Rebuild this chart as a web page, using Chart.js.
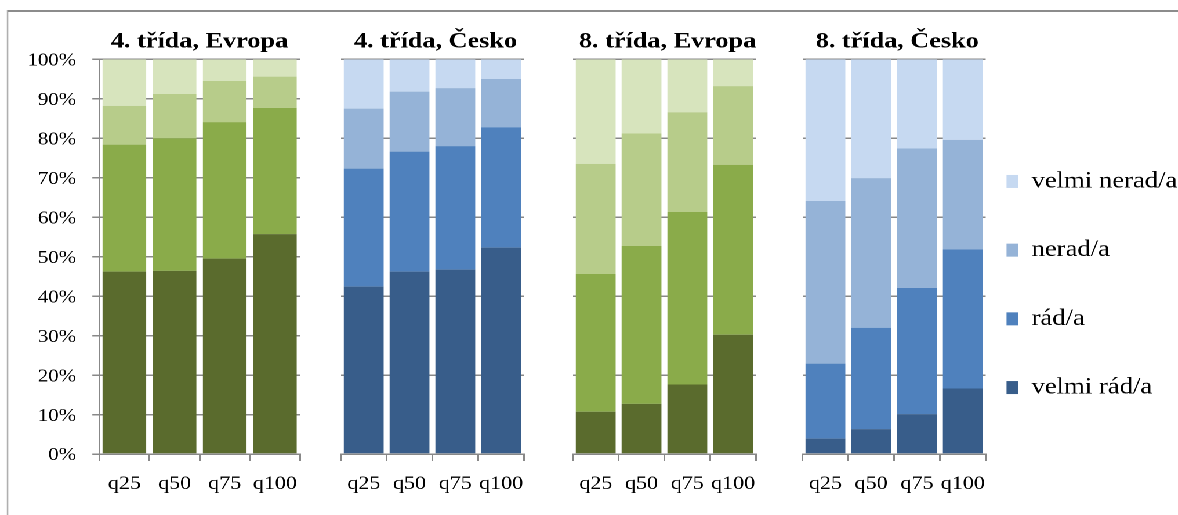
<!DOCTYPE html>
<html lang="cs">
<head>
<meta charset="utf-8">
<title>Oblíbenost předmětu podle kvartilů</title>
<script src="https://cdn.jsdelivr.net/npm/chart.js@4.4.1/dist/chart.umd.min.js"></script>
<style>
  html, body { margin: 0; padding: 0; background: #fff; width: 1178px; height: 515px; overflow: hidden; }
  /* the whole figure is laid out on a narrower stage and widened horizontally */
  #stage { position: absolute; left: 0; top: 0; width: 1015.5px; height: 515px; transform: scaleX(1.16); transform-origin: 0 0; }
  #frame { position: absolute; left: 6px; top: 9.7px; width: 1200px; height: 700px; border-top: 2px solid #8c8c8c; border-left: 1.7px solid #8c8c8c; }
  canvas { position: absolute; top: 0; }
</style>
</head>
<body>
<div id="stage">
  <div id="frame"></div>
  <canvas id="p1" width="344" height="515" style="left:0px"></canvas>
  <canvas id="p2" width="173" height="515" style="left:288.8px"></canvas>
  <canvas id="p3" width="173" height="515" style="left:489.1px"></canvas>
  <canvas id="p4" width="173" height="515" style="left:686.5px"></canvas>
  <canvas id="lg" width="240" height="461" style="left:821.8px; top:54px"></canvas>
</div>
<script>
// categories and series
const categories = ['q25', 'q50', 'q75', 'q100'];
const seriesLabels = ['velmi rád/a', 'rád/a', 'nerad/a', 'velmi nerad/a'];
const panelTitles = ['4. třída, Evropa', '4. třída, Česko', '8. třída, Evropa', '8. třída, Česko'];

// shares in % per group, from the bottom segment up
const evropa4VelmiRad   = [46.2, 46.4, 49.5, 55.7];
const evropa4Rad        = [32.2, 33.6, 34.6, 32.0];
const evropa4Nerad      = [9.8, 11.2, 10.4, 7.9];
const evropa4VelmiNerad = [11.8, 8.8, 5.5, 4.4];

const cesko4VelmiRad    = [42.4, 46.2, 46.7, 52.3];
const cesko4Rad         = [29.9, 30.4, 31.3, 30.5];
const cesko4Nerad       = [15.2, 15.2, 14.7, 12.2];
const cesko4VelmiNerad  = [12.5, 8.2, 7.3, 5.0];

const evropa8VelmiRad   = [10.7, 12.7, 17.6, 30.2];
const evropa8Rad        = [34.9, 40.0, 43.7, 43.1];
const evropa8Nerad      = [27.9, 28.5, 25.3, 19.9];
const evropa8VelmiNerad = [26.5, 18.8, 13.4, 6.8];

const cesko8VelmiRad    = [3.9, 6.3, 10.1, 16.6];
const cesko8Rad         = [19.0, 25.7, 32.0, 35.2];
const cesko8Nerad       = [41.2, 37.9, 35.3, 27.8];
const cesko8VelmiNerad  = [35.9, 30.1, 22.6, 20.4];

const greenShades = ['#5a6b2d', '#8aab4a', '#b7cc8a', '#d7e4bd'];
const blueShades  = ['#385d8a', '#4f81bd', '#95b3d7', '#c6d9f1'];

const FONT = "'Liberation Serif', 'Times New Roman', serif";
const GRID = '#888888';

Chart.defaults.font.family = FONT;
Chart.defaults.color = '#000';

function makeDatasets(series, colors) {
  return series.map((values, i) => ({
    label: seriesLabels[i],
    data: values,
    backgroundColor: colors[i],
    borderWidth: 0,
    categoryPercentage: 1,
    barPercentage: 0.87
  }));
}

function panel(canvasId, title, series, colors, withAxisLabels) {
  const yScale = {
    stacked: true,
    min: 0,
    max: 100,
    ticks: {
      display: withAxisLabels,
      stepSize: withAxisLabels ? 10 : 20,
      callback: v => v + '%',
      font: { family: FONT, size: 18 },
      color: '#000',
      padding: 14,
      labelOffset: 1.5
    },
    grid: { color: GRID, lineWidth: 1.5, drawTicks: withAxisLabels, tickLength: 6, tickColor: GRID },
    border: { display: withAxisLabels, color: GRID, width: 1.5 },
    afterFit: s => { s.width = withAxisLabels ? 85.6 : 0; }
  };
  const scales = {
    x: {
      stacked: true,
      ticks: { font: { family: FONT, size: 19 }, color: '#000', padding: 11.6, maxRotation: 0, minRotation: 0, autoSkip: false },
      grid: { drawOnChartArea: false, drawTicks: true, tickLength: 7, color: GRID, tickColor: GRID, lineWidth: 1.5 },
      border: { color: GRID, width: 1.5 },
      afterFit: s => { s.height = 61; }
    },
    y: yScale
  };
  if (withAxisLabels) {
    // empty right-hand axis keeps the title centred over the plot
    scales.y2 = {
      position: 'right',
      ticks: { display: false },
      grid: { display: false },
      border: { display: false },
      afterFit: s => { s.width = 85.4; }
    };
  }
  return new Chart(document.getElementById(canvasId), {
    type: 'bar',
    data: { labels: categories, datasets: makeDatasets(series, colors) },
    options: {
      responsive: false,
      devicePixelRatio: 2,
      animation: false,
      events: [],
      layout: { padding: 0 },
      scales,
      plugins: {
        legend: { display: false },
        tooltip: { enabled: false },
        title: {
          display: true,
          text: title,
          color: '#000',
          font: { family: FONT, size: 22.6, weight: 'bold', lineHeight: 1.2 },
          padding: { top: 28, bottom: 4.2 }
        }
      }
    }
  });
}

panel('p1', panelTitles[0], [evropa4VelmiRad, evropa4Rad, evropa4Nerad, evropa4VelmiNerad], greenShades, true);
panel('p2', panelTitles[1], [cesko4VelmiRad, cesko4Rad, cesko4Nerad, cesko4VelmiNerad], blueShades, false);
panel('p3', panelTitles[2], [evropa8VelmiRad, evropa8Rad, evropa8Nerad, evropa8VelmiNerad], greenShades, false);
panel('p4', panelTitles[3], [cesko8VelmiRad, cesko8Rad, cesko8Nerad, cesko8VelmiNerad], blueShades, false);

// shared legend
new Chart(document.getElementById('lg'), {
  type: 'bar',
  data: {
    labels: [],
    datasets: seriesLabels.map((label, i) => ({ label, data: [], backgroundColor: blueShades[i], borderWidth: 0 }))
  },
  options: {
    responsive: false,
    devicePixelRatio: 2,
    animation: false,
    events: [],
    scales: { x: { display: false }, y: { display: false } },
    plugins: {
      tooltip: { enabled: false },
      title: { display: false },
      legend: {
        display: true,
        position: 'left',
        reverse: true,
        maxWidth: 230,
        onClick: null,
        labels: {
          boxWidth: 10,
          boxHeight: 13,
          padding: 45.7,
          color: '#000',
          font: { family: FONT, size: 23 }
        }
      }
    }
  }
});
</script>
</body>
</html>
